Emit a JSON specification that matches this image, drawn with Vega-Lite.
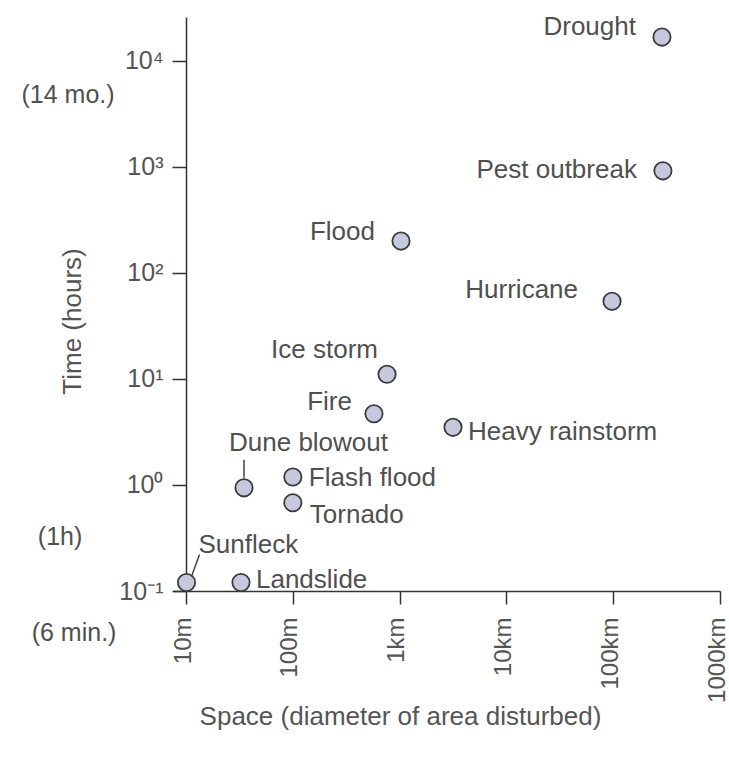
{
  "$schema": "https://vega.github.io/schema/vega-lite/v6.json",
  "width": 547,
  "height": 574,
  "autosize": {"type": "none"},
  "padding": {"left": 173, "top": 17, "right": 9, "bottom": 167},
  "background": "white",
  "config": {
    "view": {"stroke": null},
    "font": "Liberation Sans",
    "text": {"font": "Liberation Sans", "fontSize": 26, "color": "#505050", "baseline": "middle"}
  },
  "datasets": {
    "events": [
      {"event": "Drought", "space_m": 286000, "hours": 16800},
      {"event": "Pest outbreak", "space_m": 292000, "hours": 920},
      {"event": "Flood", "space_m": 1030, "hours": 200},
      {"event": "Hurricane", "space_m": 97500, "hours": 54},
      {"event": "Ice storm", "space_m": 762, "hours": 11.1},
      {"event": "Fire", "space_m": 575, "hours": 4.7},
      {"event": "Heavy rainstorm", "space_m": 3160, "hours": 3.5},
      {"event": "Flash flood", "space_m": 100, "hours": 1.19},
      {"event": "Tornado", "space_m": 100, "hours": 0.68},
      {"event": "Dune blowout", "space_m": 34.9, "hours": 0.94},
      {"event": "Sunfleck", "space_m": 10.1, "hours": 0.12},
      {"event": "Landslide", "space_m": 32.7, "hours": 0.12}
    ],
    "notes": [
      {"note": "(14 mo.)", "hours": 10000},
      {"note": "(1h)", "hours": 1},
      {"note": "(6 min.)", "hours": 0.1}
    ]
  },
  "layer": [
    {
      "data": {"name": "events"},
      "mark": {"type": "point", "filled": true, "fill": "#c6c9de", "stroke": "#3c3c3c", "strokeWidth": 1.8, "size": 300, "opacity": 1},
      "encoding": {
        "x": {
          "field": "space_m", "type": "quantitative",
          "scale": {"type": "log", "domain": [7.55, 1000000], "nice": false, "zero": false},
          "axis": {
            "values": [10, 100, 1000, 10000, 100000, 1000000],
            "labelExpr": "['10m','100m','1km','10km','100km','1000km'][round(log(datum.value)/LN10)-1]",
            "labelAngle": 270,
            "labelFontSize": 24,
            "labelColor": "#555555",
            "labelPadding": 13,
            "labelOffset": -3,
            "labelFlush": false,
            "labelOverlap": false,
            "tickSize": 13,
            "tickWidth": 1.5,
            "tickColor": "#333333",
            "domainColor": "#333333",
            "domainWidth": 1.5,
            "grid": false,
            "title": "Space (diameter of area disturbed)",
            "titleFontSize": 26,
            "titleFontWeight": "normal",
            "titleColor": "#555555",
            "titleX": 227,
            "titleY": 125,
            "titleAlign": "center",
            "titleBaseline": "middle"
          }
        },
        "y": {
          "field": "hours", "type": "quantitative",
          "scale": {"type": "log", "domain": [0.1, 26000], "nice": false, "zero": false},
          "axis": {
            "values": [0.1, 1, 10, 100, 1000, 10000],
            "labelExpr": "['10⁻¹','10⁰','10¹','10²','10³','10⁴'][round(log(datum.value)/LN10)+1]",
            "labelFontSize": 25,
            "labelColor": "#555555",
            "labelPadding": 9,
            "labelFlush": false,
            "labelOverlap": false,
            "offset": -13,
            "tickSize": 14,
            "tickWidth": 1.5,
            "tickColor": "#333333",
            "domainColor": "#333333",
            "domainWidth": 1.5,
            "grid": false,
            "title": "Time (hours)",
            "titleFontSize": 26,
            "titleFontWeight": "normal",
            "titleColor": "#555555",
            "titleX": -114,
            "titleY": 304,
            "titleAngle": 270,
            "titleAlign": "center",
            "titleBaseline": "middle"
          }
        }
      }
    },
    {
      "data": {"name": "events"},
      "transform": [{"filter": "datum.event == 'Dune blowout'"}],
      "mark": {"type": "point", "filled": false, "shape": "M0,-2.8L0,-1", "size": 400, "stroke": "#444444", "strokeWidth": 1.5, "opacity": 1},
      "encoding": {
        "x": {"field": "space_m", "type": "quantitative"},
        "y": {"field": "hours", "type": "quantitative"}
      }
    },
    {
      "data": {"name": "events"},
      "transform": [{"filter": "datum.event == 'Sunfleck'"}],
      "mark": {"type": "point", "filled": false, "shape": "M0.5,-0.6L1.3,-2.8", "size": 400, "stroke": "#444444", "strokeWidth": 1.5, "opacity": 1},
      "encoding": {
        "x": {"field": "space_m", "type": "quantitative"},
        "y": {"field": "hours", "type": "quantitative"}
      }
    },
    {
      "data": {"name": "events"},
      "encoding": {
        "x": {"field": "space_m", "type": "quantitative"},
        "y": {"field": "hours", "type": "quantitative"},
        "text": {"field": "event", "type": "nominal"}
      },
      "layer": [
        {"transform": [{"filter": "datum.event == 'Drought'"}], "mark": {"type": "text", "align": "right", "dx": -26, "dy": -10}},
        {"transform": [{"filter": "datum.event == 'Pest outbreak'"}], "mark": {"type": "text", "align": "right", "dx": -26, "dy": -1}},
        {"transform": [{"filter": "datum.event == 'Flood'"}], "mark": {"type": "text", "align": "right", "dx": -26, "dy": -9}},
        {"transform": [{"filter": "datum.event == 'Hurricane'"}], "mark": {"type": "text", "align": "right", "dx": -34, "dy": -11}},
        {"transform": [{"filter": "datum.event == 'Ice storm'"}], "mark": {"type": "text", "align": "right", "dx": -9, "dy": -24}},
        {"transform": [{"filter": "datum.event == 'Fire'"}], "mark": {"type": "text", "align": "right", "dx": -22, "dy": -12}},
        {"transform": [{"filter": "datum.event == 'Heavy rainstorm'"}], "mark": {"type": "text", "align": "left", "dx": 15, "dy": 5}},
        {"transform": [{"filter": "datum.event == 'Flash flood'"}], "mark": {"type": "text", "align": "left", "dx": 16, "dy": 1}},
        {"transform": [{"filter": "datum.event == 'Tornado'"}], "mark": {"type": "text", "align": "left", "dx": 17, "dy": 12}},
        {"transform": [{"filter": "datum.event == 'Landslide'"}], "mark": {"type": "text", "align": "left", "dx": 15, "dy": -3}},
        {"transform": [{"filter": "datum.event == 'Dune blowout'"}], "mark": {"type": "text", "align": "left", "dx": -15, "dy": -45}},
        {"transform": [{"filter": "datum.event == 'Sunfleck'"}], "mark": {"type": "text", "align": "left", "dx": 12, "dy": -38}}
      ]
    },
    {
      "data": {"name": "notes"},
      "encoding": {
        "x": {"datum": 10, "type": "quantitative"},
        "y": {"field": "hours", "type": "quantitative"},
        "text": {"field": "note", "type": "nominal"}
      },
      "layer": [
        {"transform": [{"filter": "datum.note == '(14 mo.)'"}], "mark": {"type": "text", "align": "center", "dx": -118, "dy": 34, "fontSize": 25}},
        {"transform": [{"filter": "datum.note == '(1h)'"}], "mark": {"type": "text", "align": "center", "dx": -126, "dy": 52, "fontSize": 25}},
        {"transform": [{"filter": "datum.note == '(6 min.)'"}], "mark": {"type": "text", "align": "center", "dx": -112, "dy": 42, "fontSize": 25}}
      ]
    }
  ]
}
